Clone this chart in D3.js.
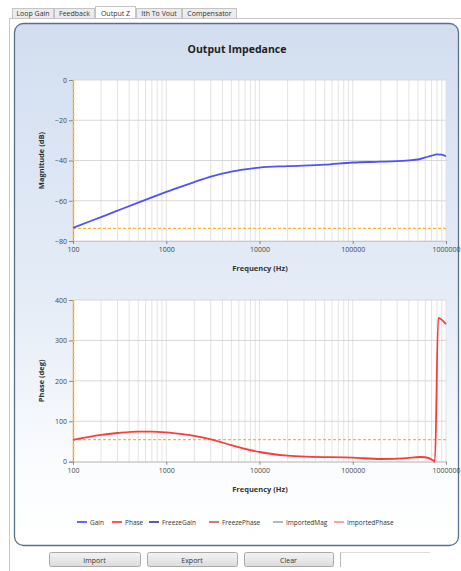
<!DOCTYPE html>
<html><head><meta charset="utf-8">
<script src="https://cdn.jsdelivr.net/npm/d3@7"></script>
<style>body{margin:0;background:#fff;}svg{display:block;font-family:"Open Sans","DejaVu Sans",sans-serif;}</style>
</head><body>
<script>
const tabs = ["Loop Gain","Feedback","Output Z","Ith To Vout","Compensator"];
const selectedTab = "Output Z";
const title = "Output Impedance";
const xTicks = [100,1000,10000,100000,1000000];
const magTicks = [0,-20,-40,-60,-80];
const phaseTicks = [0,100,200,300,400];
const gainFreq = [100,150,200,300,500,700,1000,1500,2000,3000,5000,7000,10000,20000,50000,100000,200000,300000,400000,500000,600000,700000,800000,900000,1000000];
const gainDb   = [-73.5,-70.3,-68.1,-64.9,-60.9,-58.3,-55.6,-52.7,-50.7,-48.0,-45.5,-44.4,-43.5,-42.8,-42.1,-41.0,-40.6,-40.3,-39.9,-39.5,-38.5,-37.6,-37.0,-37.1,-37.9];
const phaseFreq = [100,200,300,500,700,1000,1500,2000,3000,5000,7000,10000,20000,32000,100000,200000,380000,525000,600000,730000,760000,826000,1000000];
const phaseDeg  = [54,66.5,71,74.5,74.5,72.5,68,64,55.5,41,32,24,15,12.4,10,6.7,9,11.6,11,3,0,356,340];
const magRef = -73.7;
const phaseRef = 54.4;
const legendNames = ["Gain","Phase","FreezeGain","FreezePhase","ImportedMag","ImportedPhase"];
const legendColors = ["#5555ff","#ff4545","#4a4aa8","#cc6a6a","#aab2bc","#ff9a9a"];
const buttons = ["Import","Export","Clear"];

const W=461,H=571;
const svg=d3.select("body").append("svg").attr("width",W).attr("height",H);
const defs=svg.append("defs");
const g1=defs.append("linearGradient").attr("id","pg").attr("x1",0).attr("y1",0).attr("x2",0).attr("y2",1);
g1.append("stop").attr("offset","0").attr("stop-color","#d2def0");
g1.append("stop").attr("offset","0.55").attr("stop-color","#e6edf7");
g1.append("stop").attr("offset","0.85").attr("stop-color","#fbfcfe");
g1.append("stop").attr("offset","1").attr("stop-color","#ffffff");
const bg=defs.append("linearGradient").attr("id","bg").attr("x1",0).attr("y1",0).attr("x2",0).attr("y2",1);
bg.append("stop").attr("offset","0").attr("stop-color","#f4f4f4");
bg.append("stop").attr("offset","1").attr("stop-color","#dcdcdc");

// tabs
const tabX=[12,54,95,136,182,237];
svg.append("line").attr("x1",10).attr("x2",461).attr("y1",18.5).attr("y2",18.5).attr("stroke","#c8c8c8");
tabs.forEach((t,i)=>{
  const sel=t===selectedTab;
  svg.append("rect").attr("x",tabX[i]+0.5).attr("y",sel?6.5:8.5).attr("width",tabX[i+1]-tabX[i]-1).attr("height",sel?12:10)
    .attr("fill",sel?"#ffffff":"#ececec").attr("stroke","#c4c4c4");
  svg.append("text").attr("x",(tabX[i]+tabX[i+1])/2).attr("y",16).attr("text-anchor","middle")
    .attr("font-size",7).attr("fill","#333").text(t);
});
// outer frame
svg.append("line").attr("x1",9.5).attr("x2",9.5).attr("y1",18).attr("y2",571).attr("stroke","#c8c8c8");
// panel
svg.append("rect").attr("x",14.5).attr("y",23.5).attr("width",444).attr("height",522).attr("rx",9)
  .attr("fill","url(#pg)").attr("stroke","#56708f").attr("stroke-width",1.3);

svg.append("text").attr("x",237).attr("y",53).attr("text-anchor","middle").attr("font-size",10.5)
  .attr("font-weight","bold").attr("fill","#222").text(title);

const x=d3.scaleLog().domain([100,1000000]).range([73,446]);

function minorTicks(){
  const arr=[];
  for(let d=100;d<1000000;d*=10) for(let k=1;k<10;k++) arr.push(d*k);
  arr.push(1000000); return arr;
}

function panel(top,bottom,domain,ticks,label,freqs,vals,refVal,color){
  const y=d3.scaleLinear().domain(domain).range([bottom,top]);
  const g=svg.append("g");
  g.append("rect").attr("x",73).attr("y",top).attr("width",373).attr("height",bottom-top).attr("fill","#fff");
  g.selectAll(".vg").data(minorTicks()).join("line").attr("x1",d=>x(d)).attr("x2",d=>x(d))
    .attr("y1",top).attr("y2",bottom).attr("stroke","#dcdcdc").attr("stroke-width",0.8);
  g.selectAll(".hg").data(ticks).join("line").attr("x1",73).attr("x2",446).attr("y1",d=>y(d)).attr("y2",d=>y(d))
    .attr("stroke","#d4d4d4").attr("stroke-width",0.9);
  const ya=g.append("g").attr("transform","translate(73,0)").call(d3.axisLeft(y).tickValues(ticks).tickSize(4).tickPadding(2));
  ya.select(".domain").attr("stroke","#999");
  ya.selectAll(".tick line").attr("stroke","#888");
  ya.selectAll("text").attr("font-size",7).attr("fill","#444").attr("font-family","'Open Sans',sans-serif");
  const xa=g.append("g").attr("transform",`translate(0,${bottom})`).call(d3.axisBottom(x).tickValues(xTicks).tickFormat(d3.format("d")).tickSize(3).tickPadding(3));
  xa.select(".domain").attr("stroke","#c8c8c8");
  xa.selectAll(".tick line").attr("stroke","#888");
  xa.selectAll("text").attr("font-size",7).attr("fill","#444").attr("font-family","'Open Sans',sans-serif");
  // reference dashed lines
  g.append("line").attr("x1",73).attr("x2",446).attr("y1",y(refVal)).attr("y2",y(refVal))
    .attr("stroke","#ffb42a").attr("stroke-width",1.3).attr("stroke-dasharray","3,2");
  g.append("line").attr("x1",73.5).attr("x2",73.5).attr("y1",top).attr("y2",bottom)
    .attr("stroke","#ffb42a").attr("stroke-width",1.5).attr("stroke-dasharray","4,1.5");
  const data=freqs.map((f,i)=>[f,vals[i]]);
  g.append("path").datum(data).attr("fill","none").attr("stroke",color).attr("stroke-width",1.8)
    .attr("d",d3.line().x(d=>x(d[0])).y(d=>y(d[1])).curve(d3.curveMonotoneX));
  g.append("text").attr("x",260).attr("y",bottom+30).attr("text-anchor","middle").attr("font-size",7.5)
    .attr("font-weight","bold").attr("fill","#333").text("Frequency (Hz)");
  g.append("text").attr("transform",`translate(44,${(top+bottom)/2}) rotate(-90)`).attr("text-anchor","middle")
    .attr("font-size",7.5).attr("font-weight","bold").attr("fill","#333").text(label);
}
panel(80,241,[-80,0],magTicks,"Magnitude (dB)",gainFreq,gainDb,magRef,"#5050ff");
panel(300,461.7,[0,400],phaseTicks,"Phase (deg)",phaseFreq,phaseDeg,phaseRef,"#ff3a3a");

// legend
const legX=[77,112,149,209,273,334];
legendNames.forEach((n,i)=>{
  svg.append("line").attr("x1",legX[i]).attr("x2",legX[i]+10).attr("y1",522).attr("y2",522)
    .attr("stroke",legendColors[i]).attr("stroke-width",1.8);
  svg.append("text").attr("x",legX[i]+13).attr("y",524.5).attr("font-size",6.5).attr("fill","#333").text(n);
});

// buttons
const bx=[[49,140],[147,237],[244,333]];
buttons.forEach((b,i)=>{
  svg.append("rect").attr("x",bx[i][0]+0.5).attr("y",552.5).attr("width",bx[i][1]-bx[i][0]).attr("height",14).attr("rx",2)
    .attr("fill","url(#bg)").attr("stroke","#a8a8a8");
  svg.append("text").attr("x",(bx[i][0]+bx[i][1])/2).attr("y",562.5).attr("text-anchor","middle").attr("font-size",7)
    .attr("fill","#333").text(b);
});
svg.append("line").attr("x1",340.5).attr("x2",340.5).attr("y1",552).attr("y2",567).attr("stroke","#bbb");
svg.append("line").attr("x1",340).attr("x2",430).attr("y1",552.5).attr("y2",552.5).attr("stroke","#ddd");
</script>
</body></html>
